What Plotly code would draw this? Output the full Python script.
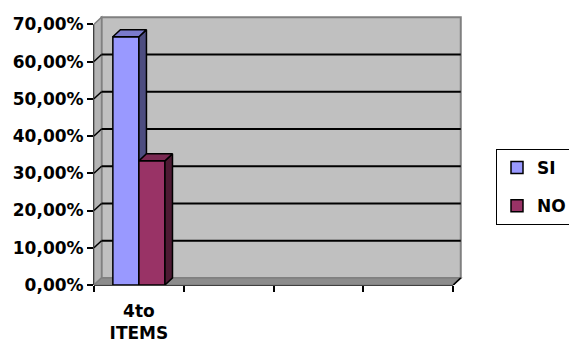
import plotly.graph_objects as go

# ---- data -------------------------------------------------------------
CATEGORIES = ["4to ITEMS"]
SERIES = ["SI", "NO"]
SI_VALUES = [0.6667]
NO_VALUES = [0.3333]
Y_TICKS = [0.0, 0.1, 0.2, 0.3, 0.4, 0.5, 0.6, 0.7]

# ---- style ------------------------------------------------------------
FRONT_COLORS = {"SI": "#9999FF", "NO": "#993366"}
TOP_COLORS = {"SI": "#7A7ACC", "NO": "#7A2952"}
SIDE_COLORS = {"SI": "#4D4D80", "NO": "#4D1A33"}
WALL_COLOR = "#C0C0C0"
SIDE_WALL_COLOR = "#B4B4B4"
FLOOR_COLOR = "#8C8C8C"
EDGE_COLOR = "#808080"

N_SLOTS = 4          # category slots along the x axis
Y_TOP = 0.7          # top of the value axis
DX = 0.084           # 3-D depth offset, x (slot units)
DY = 0.019           # 3-D depth offset, y (value units)
X_MAX = N_SLOTS + 0.12
Y_MAX = 0.725
BAR_W = 0.29

FONT = dict(family="DejaVu Sans", size=17, color="black", weight="bold")

series_values = {"SI": SI_VALUES, "NO": NO_VALUES}
slot_centers = [i + 0.5 for i in range(len(CATEGORIES))]

fig = go.Figure()

for s_idx, name in enumerate(SERIES):
    xa = "x" if s_idx == 0 else "x2"
    ya = "y" if s_idx == 0 else "y2"
    offset = -BAR_W + s_idx * BAR_W
    vals = series_values[name]

    # front face
    fig.add_trace(go.Bar(
        x=slot_centers, y=vals, name=name, legendgroup=name,
        offset=offset, width=BAR_W,
        marker=dict(color=FRONT_COLORS[name], line=dict(color="black", width=1.5)),
        xaxis=xa, yaxis=ya, hoverinfo="skip",
    ))

    # side and top faces
    for xc, v in zip(slot_centers, vals):
        x0 = xc + offset
        x1 = x0 + BAR_W
        fig.add_trace(go.Scatter(
            x=[x1, x1 + DX, x1 + DX, x1, x1], y=[0, DY, v + DY, v, 0],
            mode="lines", fill="toself", fillcolor=SIDE_COLORS[name],
            line=dict(color="black", width=1.5), showlegend=False,
            hoverinfo="skip", xaxis=xa, yaxis=ya,
        ))
        fig.add_trace(go.Scatter(
            x=[x0, x1, x1 + DX, x0 + DX, x0], y=[v, v, v + DY, v + DY, v],
            mode="lines", fill="toself", fillcolor=TOP_COLORS[name],
            line=dict(color="black", width=1.5), showlegend=False,
            hoverinfo="skip", xaxis=xa, yaxis=ya,
        ))

# ---- walls, floor and gridlines --------------------------------------
shapes = []
# back wall
shapes.append(dict(type="rect", xref="x", yref="y", layer="below",
                   x0=DX, x1=N_SLOTS + DX, y0=DY, y1=Y_TOP + DY,
                   fillcolor=WALL_COLOR, line=dict(color=EDGE_COLOR, width=2)))
# left wall
shapes.append(dict(type="path", xref="x", yref="y", layer="below",
                   path=f"M0,0 L{DX},{DY} L{DX},{Y_TOP + DY} L0,{Y_TOP} Z",
                   fillcolor=SIDE_WALL_COLOR, line=dict(color=EDGE_COLOR, width=1.5)))
# floor
shapes.append(dict(type="path", xref="x", yref="y", layer="below",
                   path=f"M0,0 L{N_SLOTS},0 L{N_SLOTS + DX},{DY} L{DX},{DY} Z",
                   fillcolor=FLOOR_COLOR, line=dict(color=EDGE_COLOR, width=1.5)))
# gridlines on the back wall plus their diagonals on the side wall
for t in Y_TICKS[1:-1]:
    shapes.append(dict(type="line", xref="x", yref="y", layer="below",
                       x0=DX, x1=N_SLOTS + DX, y0=t + DY, y1=t + DY,
                       line=dict(color="black", width=2)))
    shapes.append(dict(type="line", xref="x", yref="y", layer="below",
                       x0=0, x1=DX, y0=t, y1=t + DY,
                       line=dict(color="black", width=1.5)))
# front axis lines
shapes.append(dict(type="line", xref="x domain", yref="y domain", layer="below",
                   x0=0, x1=0, y0=0, y1=Y_TOP / Y_MAX,
                   line=dict(color="black", width=1.5)))
shapes.append(dict(type="line", xref="x domain", yref="y domain", layer="below",
                   x0=0, x1=N_SLOTS / X_MAX, y0=0, y1=0,
                   line=dict(color="black", width=1.5)))
shapes.append(dict(type="line", xref="x", yref="y", layer="below",
                   x0=N_SLOTS, x1=N_SLOTS + DX, y0=0, y1=DY,
                   line=dict(color="black", width=1.5)))

fig.update_layout(
    width=569, height=352,
    margin=dict(l=94, r=105, t=15, b=67, autoexpand=False),
    paper_bgcolor="white", plot_bgcolor="white",
    separators=",.",
    font=FONT,
    shapes=shapes,
    showlegend=True,
    legend=dict(
        xref="container", yref="container", x=496 / 569, y=1 - 149 / 352,
        xanchor="left", yanchor="top",
        bordercolor="black", borderwidth=1, bgcolor="white",
        traceorder="grouped", tracegroupgap=13, font=FONT,
    ),
    xaxis=dict(
        range=[0, X_MAX], tickvals=list(range(N_SLOTS + 1)),
        ticks="outside", ticklen=6, tickwidth=1.5, tickcolor="black",
        showticklabels=False, showgrid=False, zeroline=False, showline=False,
        fixedrange=True, automargin=False,
    ),
    xaxis2=dict(
        overlaying="x", anchor="y", side="bottom", range=[0, X_MAX],
        tickvals=slot_centers,
        ticktext=[c.replace(" ", "<br>") for c in CATEGORIES],
        ticks="", ticklabelstandoff=14, showgrid=False, zeroline=False,
        showline=False, tickfont=FONT, fixedrange=True, automargin=False,
    ),
    yaxis=dict(
        range=[0, Y_MAX], tickvals=Y_TICKS, tickformat=".2%",
        ticks="outside", ticklen=6, tickwidth=1.5, tickcolor="black",
        showgrid=False, zeroline=False, showline=False,
        tickfont=FONT, fixedrange=True, automargin=False,
    ),
    yaxis2=dict(overlaying="y", anchor="x2", range=[0, Y_MAX], visible=False,
                fixedrange=True),
)

fig.write_html("out.html")
